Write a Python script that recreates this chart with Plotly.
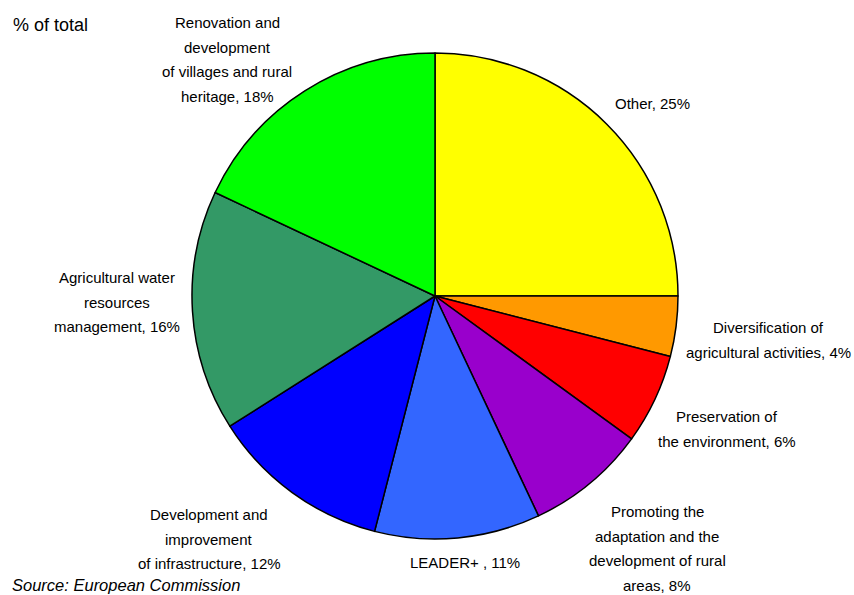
import plotly.graph_objects as go

categories = [
    "Other",
    "Diversification of<br>agricultural activities",
    "Preservation of<br>the environment",
    "Promoting the<br>adaptation and the<br>development of rural<br>areas",
    "LEADER+ ",
    "Development and<br>improvement<br>of infrastructure",
    "Agricultural water<br>resources<br>management",
    "Renovation and<br>development<br>of villages and rural<br>heritage",
]
values = [25, 4, 6, 8, 11, 12, 16, 18]
colors = ["#FFFF00", "#FF9900", "#FF0000", "#9900CC", "#3366FF", "#0000FF", "#339966", "#00FF00"]

# layout only: label block centre x and first-line baseline y (screen px)
label_x = [652, 768, 727, 657, 465, 209, 117, 227]
label_y0 = [109, 333, 422, 517, 568, 520, 283, 28]
LINE = 24.5

W, H = 854, 595
FONT = "Liberation Sans, Arial, sans-serif"


def px(x):
    return x / W


def py(y):
    return 1 - y / H


fig = go.Figure(go.Pie(
    labels=categories,
    values=values,
    sort=False,
    direction="clockwise",
    rotation=0,
    marker=dict(colors=colors, line=dict(color="black", width=1.5)),
    textinfo="none",
    hoverinfo="label+percent",
    showlegend=False,
    domain=dict(x=[px(192), px(678)], y=[py(539), py(53)]),
))

total = sum(values)
for cat, v, lx, ly in zip(categories, values, label_x, label_y0):
    lines = cat.split("<br>")
    lines[-1] = f"{lines[-1]}, {round(100 * v / total)}%"
    for i, line in enumerate(lines):
        base = ly + i * LINE
        fig.add_annotation(
            x=px(lx), y=py(base - 5.2), xref="paper", yref="paper",
            text=line, showarrow=False, xanchor="center", yanchor="middle",
            font=dict(family=FONT, size=15, color="black"),
        )

fig.add_annotation(x=px(11), y=py(31.5 - 6.2), xref="paper", yref="paper", text="% of total",
                   showarrow=False, xanchor="left", yanchor="middle",
                   font=dict(family=FONT, size=18, color="black"))
fig.add_annotation(x=px(10), y=py(591 - 5.7), xref="paper", yref="paper",
                   text="<i>Source: European Commission</i>",
                   showarrow=False, xanchor="left", yanchor="middle",
                   font=dict(family=FONT, size=16.5, color="black"))

fig.update_layout(
    width=W, height=H,
    margin=dict(l=0, r=0, t=0, b=0),
    paper_bgcolor="white", plot_bgcolor="white",
)
fig.write_html(
    "out.html",
    config={"displayModeBar": False},
    post_script="document.body.style.margin='0';document.body.style.overflow='hidden';",
)
